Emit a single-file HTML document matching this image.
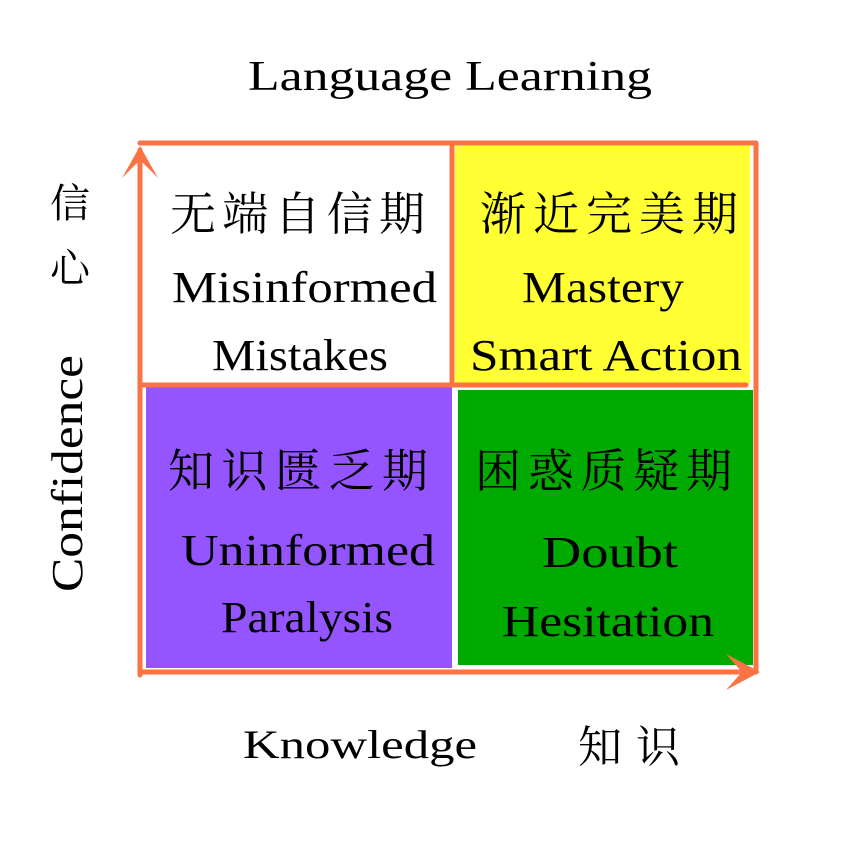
<!DOCTYPE html>
<html><head><meta charset="utf-8"><style>body{margin:0;background:#fff}svg{display:block}</style></head><body>
<svg width="845" height="845" viewBox="0 0 845 845" xmlns="http://www.w3.org/2000/svg">
<rect x="455" y="146" width="295" height="238" fill="#ffff33"/>
<rect x="146" y="387" width="306" height="281" fill="#9455ff"/>
<rect x="458" y="390" width="295" height="275" fill="#00aa00"/>
<g stroke="#f97345" stroke-width="5" fill="none" stroke-linecap="round">
<line x1="140" y1="143" x2="755" y2="143"/>
<line x1="452" y1="143" x2="452" y2="385"/>
<line x1="140" y1="385" x2="746" y2="385"/>
<line x1="756" y1="143" x2="756" y2="672"/>
<line x1="140" y1="672" x2="755" y2="672"/>
<line x1="140" y1="675" x2="140" y2="150"/>
</g>
<path d="M140 146 L122 178 L140 160 L158 178 Z" fill="#f97345"/>
<path d="M760 672 L726 654 L742 672 L726 690 Z" fill="#f97345"/>
<g font-family="'Liberation Serif',serif" fill="#000">
<text x="248" y="90" font-size="42" textLength="404" lengthAdjust="spacingAndGlyphs">Language Learning</text>
<text x="243" y="758" font-size="40" textLength="234" lengthAdjust="spacingAndGlyphs">Knowledge</text>
<text x="578" y="762" font-size="44" textLength="102" font-family="'Noto Serif CJK SC',serif">知识</text>
<text x="50" y="217" font-size="40" font-family="'Noto Serif CJK SC',serif">信</text>
<text x="50" y="282" font-size="40" font-family="'Noto Serif CJK SC',serif">心</text>
<text transform="translate(82,592) rotate(-90)" font-size="44" textLength="237" lengthAdjust="spacingAndGlyphs">Confidence</text>
<g font-size="46" font-family="'Noto Serif CJK SC',serif">
<text x="170" y="230" textLength="255">无端自信期</text>
<text x="480" y="230" textLength="258">渐近完美期</text>
<text x="168" y="487" textLength="260">知识匮乏期</text>
<text x="475" y="487" textLength="257">困惑质疑期</text>
</g>
<g font-size="44">
<text x="172" y="302" textLength="265" lengthAdjust="spacingAndGlyphs">Misinformed</text>
<text x="212" y="370" textLength="176" lengthAdjust="spacingAndGlyphs">Mistakes</text>
<text x="522" y="302" textLength="162" lengthAdjust="spacingAndGlyphs">Mastery</text>
<text x="470" y="370" textLength="272" lengthAdjust="spacingAndGlyphs">Smart Action</text>
<text x="181" y="565" textLength="254" lengthAdjust="spacingAndGlyphs">Uninformed</text>
<text x="221" y="632" textLength="172" lengthAdjust="spacingAndGlyphs">Paralysis</text>
<text x="542" y="567" textLength="136" lengthAdjust="spacingAndGlyphs">Doubt</text>
<text x="502" y="636" textLength="212" lengthAdjust="spacingAndGlyphs">Hesitation</text>
</g>
</g>
</svg>
</body></html>
